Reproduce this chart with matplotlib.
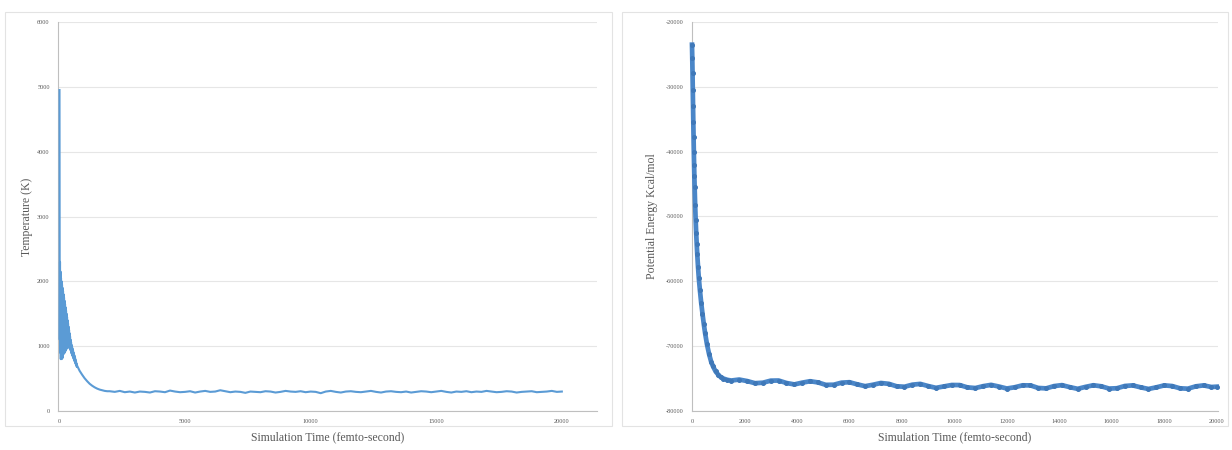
import numpy as np
import matplotlib
matplotlib.use("Agg")
import matplotlib.pyplot as plt
from matplotlib.patches import Rectangle

# ---------------- data ----------------
# Temperature (K) vs simulation time (fs)
temp_time_early = list(range(0, 701, 10)) + [800, 900, 1000, 1100, 1200, 1300,
                                             1400, 1500, 1600, 1700, 1800, 1900]
temp_early = [4950, 1100, 2300, 900, 2150, 800, 2050, 850, 2000, 800,
              1950, 850, 1900, 820, 1850, 900, 1800, 880, 1750, 920,
              1700, 900, 1650, 950, 1600, 930, 1550, 980, 1500, 960,
              1450, 1000, 1400, 980, 1350, 1000, 1300, 980, 1250, 990,
              1200, 970, 1150, 950, 1100, 930, 1060, 900, 1020, 880,
              990, 860, 960, 840, 930, 820, 900, 800, 870, 780, 850,
              760, 820, 740, 790, 720, 760, 700, 730, 680, 700,
              620, 560, 505, 460, 420, 390, 365, 345, 330, 320, 310, 305]
temp_time_tail = list(range(2000, 20001, 200))
temp_tail = [305, 295, 310, 290, 300, 285, 300, 295, 285, 305,
             300, 290, 315, 300, 290, 295, 305, 285, 300, 310,
             295, 300, 320, 305, 290, 300, 295, 280, 300, 295,
             290, 305, 300, 285, 295, 310, 300, 295, 305, 290,
             300, 295, 275, 300, 310, 295, 285, 300, 305, 295,
             290, 300, 310, 295, 285, 300, 305, 295, 290, 300,
             285, 295, 305, 300, 290, 300, 310, 295, 285, 300,
             295, 305, 290, 300, 295, 310, 300, 290, 295, 305,
             300, 285, 295, 300, 305, 290, 295, 300, 310, 295, 300]

# Potential energy (kcal/mol) vs simulation time (fs)
pe_time_early = [0, 10, 20, 30, 40, 50, 60, 70, 80, 90, 100, 120, 140, 160, 180,
                 200, 230, 260, 300, 350, 400, 450, 500, 570, 650, 730, 800,
                 900, 1000, 1100, 1200, 1350, 1500]
pe_early = [-23500, -25500, -27800, -30500, -33000, -35500, -37800, -40000,
            -42000, -43800, -45400, -48200, -50600, -52600, -54300, -55800,
            -57800, -59500, -61300, -63300, -65000, -66600, -68000, -69700,
            -71200, -72400, -73100, -73900, -74400, -74800, -75000, -75200,
            -75300]
pe_time_tail = list(range(1800, 19801, 300)) + [20000]
pe_tail = [-75150, -75380, -75710, -75640, -75320, -75300, -75680, -75900,
           -75630, -75410, -75590, -75970, -75950, -75630, -75560, -75890,
           -76170, -75950, -75680, -75810, -76190, -76260, -75940, -75820,
           -76150, -76430, -76210, -75990, -76000, -76360, -76460, -76170,
           -75970, -76230, -76530, -76340, -76040, -76050, -76450, -76510,
           -76160, -76010, -76320, -76580, -76280, -76030, -76190, -76540,
           -76490, -76140, -76050, -76350, -76600, -76350, -76050, -76150,
           -76500, -76560, -76200, -76050, -76300, -76250]

temp_yticks = [0, 1000, 2000, 3000, 4000, 5000, 6000]
temp_xticks = [0, 5000, 10000, 15000, 20000]
pe_yticks = [-80000, -70000, -60000, -50000, -40000, -30000, -20000]
pe_xticks = [0, 2000, 4000, 6000, 8000, 10000, 12000, 14000, 16000, 18000, 20000]

xlabel = "Simulation Time (femto-second)"
ylabel_left = "Temperature (K)"
ylabel_right = "Potential Energy Kcal/mol"

# ---------------- figure ----------------
W, H = 1232, 450
fig = plt.figure(figsize=(W / 100, H / 100), dpi=100)
fig.patch.set_facecolor("white")

def px(x0, y0, x1, y1):
    return [x0 / W, 1 - y1 / H, (x1 - x0) / W, (y1 - y0) / H]

# panel borders
for (bx0, by0, bx1, by1) in [(5, 12, 612, 426), (622, 12, 1228, 426)]:
    fig.patches.append(Rectangle((bx0 / W, 1 - by1 / H), (bx1 - bx0) / W, (by1 - by0) / H,
                                 transform=fig.transFigure, fill=False,
                                 edgecolor="#e3e3e3", linewidth=0.8))

text_color = "#595959"
serif = ["Liberation Serif", "DejaVu Serif"]
line_blue = "#5b9bd5"

def style(ax, xticks, yticks, xlim, ylim):
    ax.set_xlim(*xlim)
    ax.set_ylim(*ylim)
    ax.set_xticks(xticks)
    ax.set_yticks(yticks)
    ax.set_xticklabels([str(v) for v in xticks], fontsize=4.5, color=text_color, family=serif)
    ax.set_yticklabels([str(v) for v in yticks], fontsize=4.5, color=text_color, family=serif)
    ax.tick_params(length=0, pad=6)
    for s in ["top", "right"]:
        ax.spines[s].set_visible(False)
    for s in ["left", "bottom"]:
        ax.spines[s].set_color("#bfbfbf")
        ax.spines[s].set_linewidth(0.8)
    ax.grid(axis="y", color="#e6e6e6", linewidth=0.8)
    ax.set_axisbelow(True)

# left panel
ax1 = fig.add_axes(px(58, 22, 597, 411))
style(ax1, temp_xticks, temp_yticks, (-60, 21400), (0, 6000))
ax1.plot(temp_time_early + temp_time_tail, temp_early + temp_tail,
         color=line_blue, linewidth=1.5, zorder=3, clip_on=False)
ax1.set_xlabel(xlabel, fontsize=8.5, color=text_color, family=serif, labelpad=5)
ax1.set_ylabel(ylabel_left, fontsize=8.5, color=text_color, family=serif, labelpad=3)

# right panel
ax2 = fig.add_axes(px(692, 22, 1218, 411))
style(ax2, pe_xticks, pe_yticks, (0, 20050), (-80000, -20000))
ax2.plot(pe_time_early + pe_time_tail, pe_early + pe_tail, color="#4a86c8",
         linewidth=3.4, marker="o", markersize=2.6, markerfacecolor="#3f78b8",
         markeredgecolor="#3f78b8", zorder=3, clip_on=False)
ax2.set_xlabel(xlabel, fontsize=8.5, color=text_color, family=serif, labelpad=5)
ax2.set_ylabel(ylabel_right, fontsize=8.5, color=text_color, family=serif, labelpad=6)

fig.savefig("out.png", dpi=100, facecolor="white")
